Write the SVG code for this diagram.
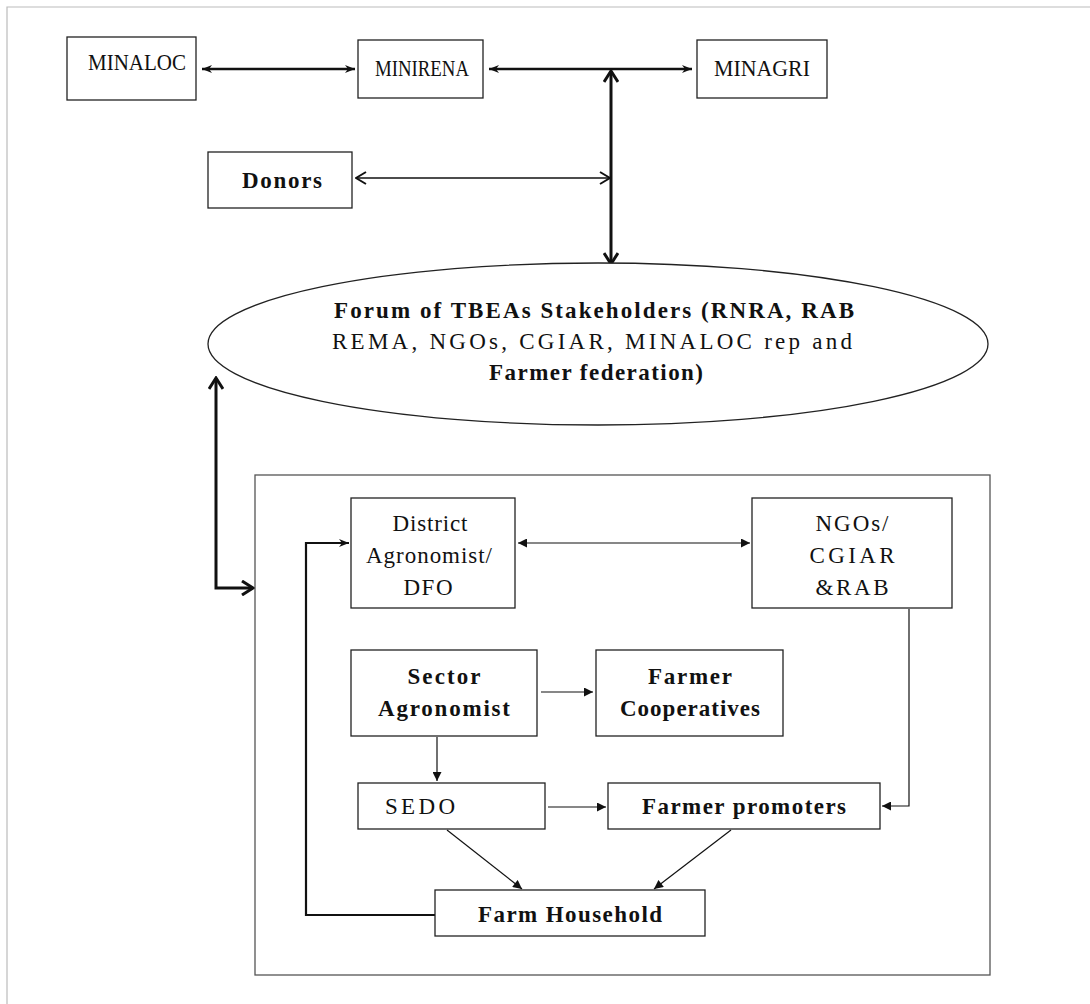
<svg xmlns="http://www.w3.org/2000/svg" width="1090" height="1004" viewBox="0 0 1090 1004">
<style>
.box{fill:#fff;stroke:#222;stroke-width:1.3}
.t{font-family:"Liberation Serif","Times New Roman",serif;font-size:23px;fill:#111;text-anchor:middle}
.b{font-weight:bold}
.c{fill:none;stroke:#111}
</style>
<defs>
<marker id="tri" viewBox="0 0 10 10" refX="10" refY="5" markerWidth="10" markerHeight="9" markerUnits="userSpaceOnUse" orient="auto-start-reverse"><path d="M0,0 L10,5 L0,10 Z" fill="#111"/></marker>
<marker id="tri2" viewBox="0 0 10 10" refX="10" refY="5" markerWidth="12" markerHeight="10" markerUnits="userSpaceOnUse" orient="auto-start-reverse"><path d="M0,1 L10,5 L0,9 L3,5 Z" fill="#111"/></marker>
<marker id="vee" viewBox="0 0 12 14" refX="11" refY="7" markerWidth="12" markerHeight="14" markerUnits="userSpaceOnUse" orient="auto-start-reverse"><path d="M1,1 L11,7 L1,13" fill="none" stroke="#111" stroke-width="2"/></marker>
<marker id="veeB" viewBox="0 0 14 16" refX="12" refY="8" markerWidth="14" markerHeight="16" markerUnits="userSpaceOnUse" orient="auto-start-reverse"><path d="M1,1 L12,8 L1,15" fill="none" stroke="#111" stroke-width="3"/></marker>
</defs>
<rect width="1090" height="1004" fill="#fff"/>
<g id="frame" fill="none" stroke="#bbb" stroke-width="1.2">
<path d="M7,1004 V7 H1090"/>
</g>

<g id="connectors">
<line class="c" x1="202" y1="69" x2="355" y2="69" stroke-width="2.5" marker-start="url(#tri2)" marker-end="url(#tri2)"/>
<line class="c" x1="489" y1="69" x2="692" y2="69" stroke-width="2.5" marker-start="url(#tri2)" marker-end="url(#tri2)"/>
<line class="c" x1="611" y1="71" x2="611" y2="264" stroke-width="3" marker-start="url(#veeB)" marker-end="url(#veeB)"/>
<line class="c" x1="356" y1="178" x2="610" y2="178" stroke-width="1.6" marker-start="url(#vee)" marker-end="url(#vee)"/>
<path class="c" d="M216,378 V588 H253" stroke-width="3" marker-start="url(#veeB)" marker-end="url(#veeB)"/>
<line class="c" x1="518" y1="543" x2="750" y2="543" stroke-width="1.2" marker-start="url(#tri)" marker-end="url(#tri)"/>
<line class="c" x1="541" y1="692" x2="593" y2="692" stroke-width="1.2" marker-end="url(#tri)"/>
<line class="c" x1="437" y1="737" x2="437" y2="781" stroke-width="1.2" marker-end="url(#tri)"/>
<line class="c" x1="548" y1="807" x2="606" y2="807" stroke-width="1.2" marker-end="url(#tri)"/>
<path class="c" d="M909,609 V806 H882" stroke-width="1.2" marker-end="url(#tri)"/>
<line class="c" x1="447" y1="830" x2="522" y2="889" stroke-width="1.2" marker-end="url(#tri)"/>
<line class="c" x1="731" y1="830" x2="654" y2="889" stroke-width="1.2" marker-end="url(#tri)"/>
<path class="c" d="M435,915 H306 V543 H349" stroke-width="2.2" marker-end="url(#tri2)"/>
</g>

<g id="n-minaloc"><rect class="box" x="67" y="37" width="129" height="63"/><text class="t" x="137" y="70" textLength="98" lengthAdjust="spacingAndGlyphs">MINALOC</text></g>
<g id="n-minirena"><rect class="box" x="358" y="40" width="125" height="58"/><text class="t" x="422" y="76" textLength="94" lengthAdjust="spacingAndGlyphs">MINIRENA</text></g>
<g id="n-minagri"><rect class="box" x="697" y="40" width="130" height="58"/><text class="t" x="762" y="76" textLength="96" lengthAdjust="spacingAndGlyphs">MINAGRI</text></g>
<g id="n-donors"><rect class="box" x="208" y="152" width="144" height="56"/><text class="t b" x="282" y="188" textLength="80" lengthAdjust="spacing">Donors</text></g>
<g id="n-forum"><ellipse class="box" cx="598" cy="344" rx="390" ry="81"/>
<text class="t b" x="594" y="318" textLength="520" lengthAdjust="spacing">Forum of TBEAs Stakeholders (RNRA, RAB</text>
<text class="t" x="592" y="349" textLength="520" lengthAdjust="spacing">REMA, NGOs, CGIAR, MINALOC rep and</text>
<text class="t b" x="596" y="380" textLength="214" lengthAdjust="spacing">Farmer federation)</text></g>
<g id="n-district-box"><rect x="255" y="475" width="735" height="500" fill="none" stroke="#555" stroke-width="1.3"/></g>
<g id="n-district"><rect class="box" x="351" y="498" width="164" height="110"/>
<text class="t" x="430" y="531" textLength="75" lengthAdjust="spacing">District</text>
<text class="t" x="429" y="563" textLength="126" lengthAdjust="spacing">Agronomist/</text>
<text class="t" x="428" y="595" textLength="49" lengthAdjust="spacing">DFO</text></g>
<g id="n-ngos"><rect class="box" x="752" y="498" width="200" height="110"/>
<text class="t" x="852" y="531" textLength="73" lengthAdjust="spacing">NGOs/</text>
<text class="t" x="852" y="563" textLength="85" lengthAdjust="spacing">CGIAR</text>
<text class="t" x="852" y="595" textLength="73" lengthAdjust="spacing">&amp;RAB</text></g>
<g id="n-sector"><rect class="box" x="351" y="650" width="186" height="86"/>
<text class="t b" x="444" y="684" textLength="73" lengthAdjust="spacing">Sector</text>
<text class="t b" x="444" y="716" textLength="132" lengthAdjust="spacing">Agronomist</text></g>
<g id="n-coop"><rect class="box" x="596" y="650" width="187" height="86"/>
<text class="t b" x="690" y="684" textLength="84" lengthAdjust="spacing">Farmer</text>
<text class="t b" x="690" y="716" textLength="140" lengthAdjust="spacing">Cooperatives</text></g>
<g id="n-sedo"><rect class="box" x="358" y="783" width="187" height="46"/><text class="t" x="420" y="814" textLength="70" lengthAdjust="spacing">SEDO</text></g>
<g id="n-promoters"><rect class="box" x="608" y="783" width="272" height="46"/><text class="t b" x="744" y="814" textLength="204" lengthAdjust="spacing">Farmer promoters</text></g>
<g id="n-household"><rect class="box" x="435" y="890" width="270" height="46"/><text class="t b" x="570" y="922" textLength="184" lengthAdjust="spacing">Farm Household</text></g>
</svg>
